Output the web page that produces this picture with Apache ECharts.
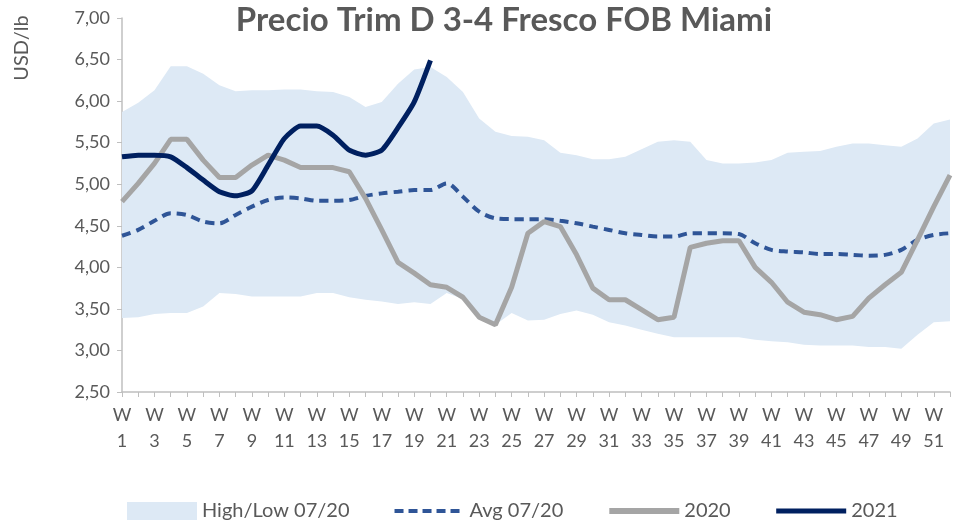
<!DOCTYPE html>
<html>
<head>
<meta charset="utf-8">
<script src="https://cdn.jsdelivr.net/npm/echarts@6/dist/echarts.min.js"></script>
<style>
  html, body { margin: 0; padding: 0; background: #fff; }
  #main { width: 971px; height: 526px; }
</style>
</head>
<body>
<div id="main"></div>
<script>
// semanas W1..W52
var weeks = [];
for (var i = 1; i <= 52; i++) weeks.push('W' + i);

// rango alto/bajo 2007-2020
var high = [5.87, 5.98, 6.13, 6.42, 6.42, 6.33, 6.19, 6.12, 6.13, 6.13, 6.14, 6.14, 6.12,
  6.11, 6.05, 5.93, 5.99, 6.21, 6.38, 6.41, 6.29, 6.11, 5.79, 5.63, 5.58, 5.57,
  5.53, 5.38, 5.35, 5.30, 5.30, 5.33, 5.42, 5.51, 5.53, 5.51, 5.29, 5.25, 5.25,
  5.26, 5.29, 5.38, 5.39, 5.40, 5.45, 5.49, 5.49, 5.47, 5.45, 5.55, 5.73, 5.78];
var low = [3.39, 3.40, 3.44, 3.45, 3.45, 3.53, 3.69, 3.68, 3.65, 3.65, 3.65, 3.65, 3.69,
  3.69, 3.64, 3.61, 3.59, 3.56, 3.58, 3.56, 3.69, 3.62, 3.42, 3.31, 3.45, 3.36,
  3.37, 3.44, 3.48, 3.43, 3.34, 3.30, 3.25, 3.20, 3.16, 3.16, 3.16, 3.16, 3.16,
  3.13, 3.11, 3.10, 3.07, 3.06, 3.06, 3.06, 3.04, 3.04, 3.02, 3.19, 3.34, 3.35];

// promedio 2007-2020
var avg = [4.38, 4.45, 4.56, 4.65, 4.63, 4.55, 4.53, 4.63, 4.73, 4.81, 4.84, 4.83, 4.80,
  4.80, 4.81, 4.86, 4.89, 4.91, 4.93, 4.93, 5.01, 4.85, 4.67, 4.59, 4.58, 4.58,
  4.58, 4.56, 4.53, 4.49, 4.45, 4.41, 4.39, 4.37, 4.37, 4.41, 4.41, 4.41, 4.40,
  4.29, 4.21, 4.19, 4.18, 4.16, 4.16, 4.15, 4.14, 4.15, 4.21, 4.33, 4.39, 4.41];

var y2020 = [4.79, 5.01, 5.25, 5.54, 5.54, 5.29, 5.08, 5.08, 5.23, 5.35, 5.29, 5.20, 5.20,
  5.20, 5.15, 4.83, 4.45, 4.06, 3.93, 3.79, 3.76, 3.64, 3.40, 3.31, 3.76, 4.41,
  4.55, 4.49, 4.15, 3.75, 3.61, 3.61, 3.49, 3.37, 3.40, 4.24, 4.29, 4.32, 4.32,
  4.00, 3.82, 3.58, 3.46, 3.43, 3.37, 3.41, 3.63, 3.79, 3.94, 4.33, 4.73, 5.11];

var y2021 = [5.33, 5.35, 5.35, 5.33, 5.20, 5.05, 4.91, 4.86, 4.92, 5.23, 5.55, 5.70, 5.70,
  5.59, 5.41, 5.35, 5.41, 5.68, 5.99, 6.49];

var yTicks = [2.5, 3, 3.5, 4, 4.5, 5, 5.5, 6, 6.5, 7];

var bandWidth = high.map(function (h, k) { return +(h - low[k]).toFixed(2); });

var textColor = '#595959';
var fontName = 'Lato';
var hideDot = { opacity: 0 };

var myChart = echarts.init(document.getElementById('main'));
var option = {
  backgroundColor: '#ffffff',
  animation: false,
  textStyle: { fontFamily: fontName },
  graphic: [
    {
      type: 'text',
      x: 504, y: 20,
      style: {
        text: 'Precio Trim D 3-4 Fresco FOB Miami',
        fill: textColor,
        font: 'bold 33px ' + fontName,
        textAlign: 'center',
        textVerticalAlign: 'middle'
      }
    },
    {
      type: 'text',
      x: 22, y: 48,
      rotation: Math.PI / 2,
      style: {
        text: 'USD/lb',
        fill: textColor,
        font: '20px ' + fontName,
        textAlign: 'center',
        textVerticalAlign: 'middle'
      }
    }
  ],
  legend: {
    bottom: 0,
    left: 122,
    itemWidth: 70,
    itemHeight: 18,
    itemGap: 43,
    textStyle: { color: textColor, fontSize: 20, fontFamily: fontName },
    data: [
      { name: 'High/Low 07/20', icon: 'rect' },
      { name: 'Avg 07/20', itemStyle: hideDot, lineStyle: { width: 4, type: [9, 5] } },
      { name: '2020', itemStyle: hideDot, lineStyle: { width: 6 } },
      { name: '2021', itemStyle: hideDot, lineStyle: { width: 5 } }
    ]
  },
  grid: { left: 122, right: 21, top: 18, bottom: 134 },
  xAxis: {
    type: 'category',
    data: weeks,
    boundaryGap: false,
    axisLine: { lineStyle: { color: '#bfbfbf', width: 1.5 } },
    axisTick: { show: true, length: 5, interval: 0, lineStyle: { color: '#bfbfbf' } },
    axisLabel: {
      interval: 1,
      margin: 10,
      color: textColor,
      fontSize: 18,
      lineHeight: 26,
      formatter: function (v) { return 'W\n' + v.slice(1); }
    },
    splitLine: { show: false }
  },
  yAxis: {
    type: 'value',
    min: yTicks[0],
    max: yTicks[yTicks.length - 1],
    interval: 0.5,
    axisLine: { show: true, lineStyle: { color: '#bfbfbf', width: 1.5 } },
    axisTick: { show: true, length: 5, lineStyle: { color: '#bfbfbf' } },
    axisLabel: {
      color: textColor,
      fontSize: 18,
      margin: 12,
      formatter: function (v) { return v.toFixed(2).replace('.', ','); }
    },
    splitLine: { show: false }
  },
  series: [
    {
      name: 'low',
      type: 'line',
      stack: 'band',
      data: low,
      symbol: 'none',
      lineStyle: { opacity: 0 },
      silent: true,
      z: 1
    },
    {
      name: 'High/Low 07/20',
      type: 'line',
      stack: 'band',
      data: bandWidth,
      symbol: 'none',
      itemStyle: { color: '#dde9f5' },
      lineStyle: { opacity: 0 },
      areaStyle: { color: '#dde9f5', opacity: 1 },
      silent: true,
      z: 1
    },
    {
      name: 'Avg 07/20',
      type: 'line',
      data: avg,
      symbol: 'none',
      smooth: 0.3,
      itemStyle: { color: '#2f5597' },
      lineStyle: { color: '#2f5597', width: 4, type: [9, 6] },
      z: 3
    },
    {
      name: '2020',
      type: 'line',
      data: y2020,
      symbol: 'none',
      itemStyle: { color: '#a5a5a5' },
      lineStyle: { color: '#a5a5a5', width: 5 },
      z: 4
    },
    {
      name: '2021',
      type: 'line',
      data: y2021,
      symbol: 'none',
      smooth: 0.2,
      itemStyle: { color: '#002060' },
      lineStyle: { color: '#002060', width: 5 },
      z: 5
    }
  ]
};
myChart.setOption(option);
</script>
</body>
</html>
